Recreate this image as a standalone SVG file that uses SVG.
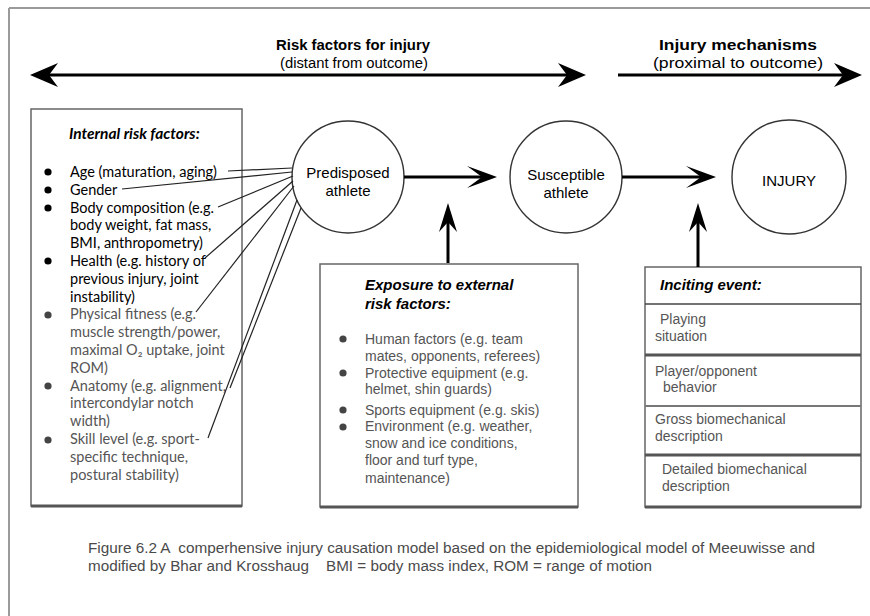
<svg xmlns="http://www.w3.org/2000/svg" width="870" height="616" viewBox="0 0 870 616">
<style>
  .frame{fill:none;stroke:#9a9a9a;stroke-width:2}
  .box{fill:#fff;stroke:#666;stroke-width:1.5}
  .thick{stroke:#555;stroke-width:3}
  .circ{fill:#fff;stroke:#333;stroke-width:1.4}
  .arr{stroke:#000;stroke-width:3;fill:none}
  .head{fill:#000}
  .conn{stroke:#222;stroke-width:1.2;fill:none}
  .hdr{font-family:"Liberation Sans",Arial,sans-serif;font-weight:bold;font-size:15px;fill:#000;text-anchor:middle}
  .sub{font-family:"Liberation Sans",Arial,sans-serif;font-size:14px;fill:#000;text-anchor:middle}
  .ctext{font-family:"Liberation Sans",Arial,sans-serif;font-size:15px;fill:#000;text-anchor:middle}
  .my{font-family:Lato,"Open Sans",sans-serif;font-size:14.5px;fill:#000}
  .myg{font-family:Lato,"Open Sans",sans-serif;font-size:14.5px;fill:#555}
  .myt{font-family:Lato,"Open Sans",sans-serif;font-size:15.5px;font-weight:bold;font-style:italic;fill:#000}
  .at{font-family:"Liberation Sans",Arial,sans-serif;font-size:15px;font-weight:bold;font-style:italic;fill:#000}
  .ag{font-family:"Liberation Sans",Arial,sans-serif;font-size:14px;fill:#555}
  .cap{font-family:"Liberation Sans",Arial,sans-serif;font-size:14px;fill:#4a4a4a;white-space:pre}
  .bul{fill:#000}
  .bulg{fill:#444}
</style>

<g id="frame">
  <line class="frame" x1="9" y1="8" x2="870" y2="8"/>
  <line class="frame" x1="9" y1="8" x2="9" y2="616"/>
</g>

<g id="header-risk">
  <text class="hdr" x="353" y="50" textLength="154" lengthAdjust="spacingAndGlyphs">Risk factors for injury</text>
  <text class="sub" x="354" y="68" textLength="148" lengthAdjust="spacingAndGlyphs">(distant from outcome)</text>
</g>
<g id="header-mech">
  <text class="hdr" x="738" y="50" textLength="158" lengthAdjust="spacingAndGlyphs">Injury mechanisms</text>
  <text class="sub" x="738" y="68" textLength="170" lengthAdjust="spacingAndGlyphs">(proximal to outcome)</text>
</g>

<g id="internal">
  <rect class="box" x="31" y="109" width="211" height="397"/>
  <line class="thick" x1="31" y1="506" x2="242" y2="506"/>
  <text class="myt" x="69" y="139">Internal risk factors:</text>
  <circle class="bul" cx="48" cy="172" r="3.6"/>
  <circle class="bul" cx="48" cy="190" r="3.6"/>
  <circle class="bul" cx="48" cy="208" r="3.6"/>
  <circle class="bul" cx="48" cy="261" r="3.6"/>
  <circle class="bulg" cx="48" cy="315" r="3.6"/>
  <circle class="bulg" cx="48" cy="386" r="3.6"/>
  <circle class="bulg" cx="48" cy="440" r="3.6"/>
  <text class="my" x="70" y="177">Age (maturation, aging)</text>
  <text class="my" x="70" y="194.8">Gender</text>
  <text class="my" x="70" y="212.6">Body composition (e.g.</text>
  <text class="my" x="70" y="230.4">body weight, fat mass,</text>
  <text class="my" x="70" y="248.2">BMI, anthropometry)</text>
  <text class="my" x="70" y="266">Health (e.g. history of</text>
  <text class="my" x="70" y="283.8">previous injury, joint</text>
  <text class="my" x="70" y="301.6">instability)</text>
  <text class="myg" x="70" y="319.4">Physical fitness (e.g.</text>
  <text class="myg" x="70" y="337.2">muscle strength/power,</text>
  <text class="myg" x="70" y="355">maximal O₂ uptake, joint</text>
  <text class="myg" x="70" y="372.8">ROM)</text>
  <text class="myg" x="70" y="390.6">Anatomy (e.g. alignment,</text>
  <text class="myg" x="70" y="408.4">intercondylar notch</text>
  <text class="myg" x="70" y="426.2">width)</text>
  <text class="myg" x="70" y="444">Skill level (e.g. sport-</text>
  <text class="myg" x="70" y="461.8">specific technique,</text>
  <text class="myg" x="70" y="479.6">postural stability)</text>
</g>

<g id="external">
  <rect class="box" x="320" y="264" width="258" height="243"/>
  <line class="thick" x1="320" y1="507" x2="578" y2="507"/>
  <text class="at" x="365" y="290">Exposure to external</text>
  <text class="at" x="365" y="309">risk factors:</text>
  <circle class="bulg" cx="343" cy="339" r="3.6"/>
  <circle class="bulg" cx="343" cy="373" r="3.6"/>
  <circle class="bulg" cx="343" cy="410" r="3.6"/>
  <circle class="bulg" cx="343" cy="427" r="3.6"/>
  <text class="ag" x="365" y="344">Human factors (e.g. team</text>
  <text class="ag" x="365" y="361">mates, opponents, referees)</text>
  <text class="ag" x="365" y="378">Protective equipment (e.g.</text>
  <text class="ag" x="365" y="394">helmet, shin guards)</text>
  <text class="ag" x="365" y="415">Sports equipment (e.g. skis)</text>
  <text class="ag" x="365" y="431">Environment (e.g. weather,</text>
  <text class="ag" x="365" y="448">snow and ice conditions,</text>
  <text class="ag" x="365" y="465">floor and turf type,</text>
  <text class="ag" x="365" y="483">maintenance)</text>
</g>

<g id="inciting">
  <rect class="box" x="645" y="267" width="216" height="240"/>
  <line x1="645" y1="304" x2="861" y2="304" stroke="#444" stroke-width="1.5"/>
  <line class="thick" x1="645" y1="355" x2="861" y2="355"/>
  <line x1="645" y1="406" x2="861" y2="406" stroke="#777" stroke-width="2"/>
  <line class="thick" x1="645" y1="455" x2="861" y2="455"/>
  <line class="thick" x1="645" y1="507" x2="861" y2="507"/>
  <text class="at" x="660" y="290">Inciting event:</text>
  <text class="ag" x="660" y="324">Playing</text>
  <text class="ag" x="655" y="341">situation</text>
  <text class="ag" x="655" y="376">Player/opponent</text>
  <text class="ag" x="663" y="392">behavior</text>
  <text class="ag" x="655" y="424">Gross biomechanical</text>
  <text class="ag" x="655" y="441">description</text>
  <text class="ag" x="662" y="474">Detailed biomechanical</text>
  <text class="ag" x="662" y="491">description</text>
</g>

<g id="predisposed">
  <circle class="circ" cx="348" cy="177" r="56"/>
  <text class="ctext" x="348" y="178">Predisposed</text>
  <text class="ctext" x="348" y="196">athlete</text>
</g>
<g id="susceptible">
  <circle class="circ" cx="566" cy="177" r="56"/>
  <text class="ctext" x="566" y="180">Susceptible</text>
  <text class="ctext" x="566" y="198">athlete</text>
</g>
<g id="injury">
  <circle class="circ" cx="789" cy="177" r="57"/>
  <text class="ctext" x="789" y="186">INJURY</text>
</g>

<g id="connectors">
  <line class="arr" x1="40" y1="75" x2="575" y2="75"/>
  <path class="head" d="M30,75 L58,63 L49,75 L58,87 Z"/>
  <path class="head" d="M586,75 L558,63 L567,75 L558,87 Z"/>
  <line class="arr" x1="618" y1="75" x2="852" y2="75"/>
  <path class="head" d="M862,75 L834,63 L843,75 L834,87 Z"/>
  <line class="arr" x1="404" y1="177" x2="488" y2="177"/>
  <path class="head" d="M497,177 L467,166 L482,177 L467,188 Z"/>
  <line class="arr" x1="622" y1="177" x2="706" y2="177"/>
  <path class="head" d="M716,177 L686,166 L701,177 L686,188 Z"/>
  <line class="arr" x1="448" y1="263" x2="448" y2="212"/>
  <path class="head" d="M448,203 L439,232 L448,222 L457,232 Z"/>
  <line class="arr" x1="698" y1="267" x2="698" y2="212"/>
  <path class="head" d="M698,203 L689,232 L698,222 L707,232 Z"/>
  <line class="conn" x1="228" y1="171" x2="292" y2="168"/>
  <line class="conn" x1="122" y1="189" x2="292" y2="172"/>
  <line class="conn" x1="218" y1="207" x2="293" y2="176"/>
  <line class="conn" x1="205" y1="258" x2="293" y2="181"/>
  <line class="conn" x1="196" y1="312" x2="294" y2="186"/>
  <line class="conn" x1="230" y1="388" x2="301" y2="208"/>
  <line class="conn" x1="208" y1="438" x2="297" y2="200"/>
</g>

<g id="caption">
  <text class="cap" xml:space="preserve" x="88" y="553" textLength="727" lengthAdjust="spacingAndGlyphs">Figure 6.2 A  comperhensive injury causation model based on the epidemiological model of Meeuwisse and</text>
  <text class="cap" xml:space="preserve" x="88" y="571" textLength="564" lengthAdjust="spacingAndGlyphs">modified by Bhar and Krosshaug    BMI = body mass index, ROM = range of motion</text>
</g>
</svg>
